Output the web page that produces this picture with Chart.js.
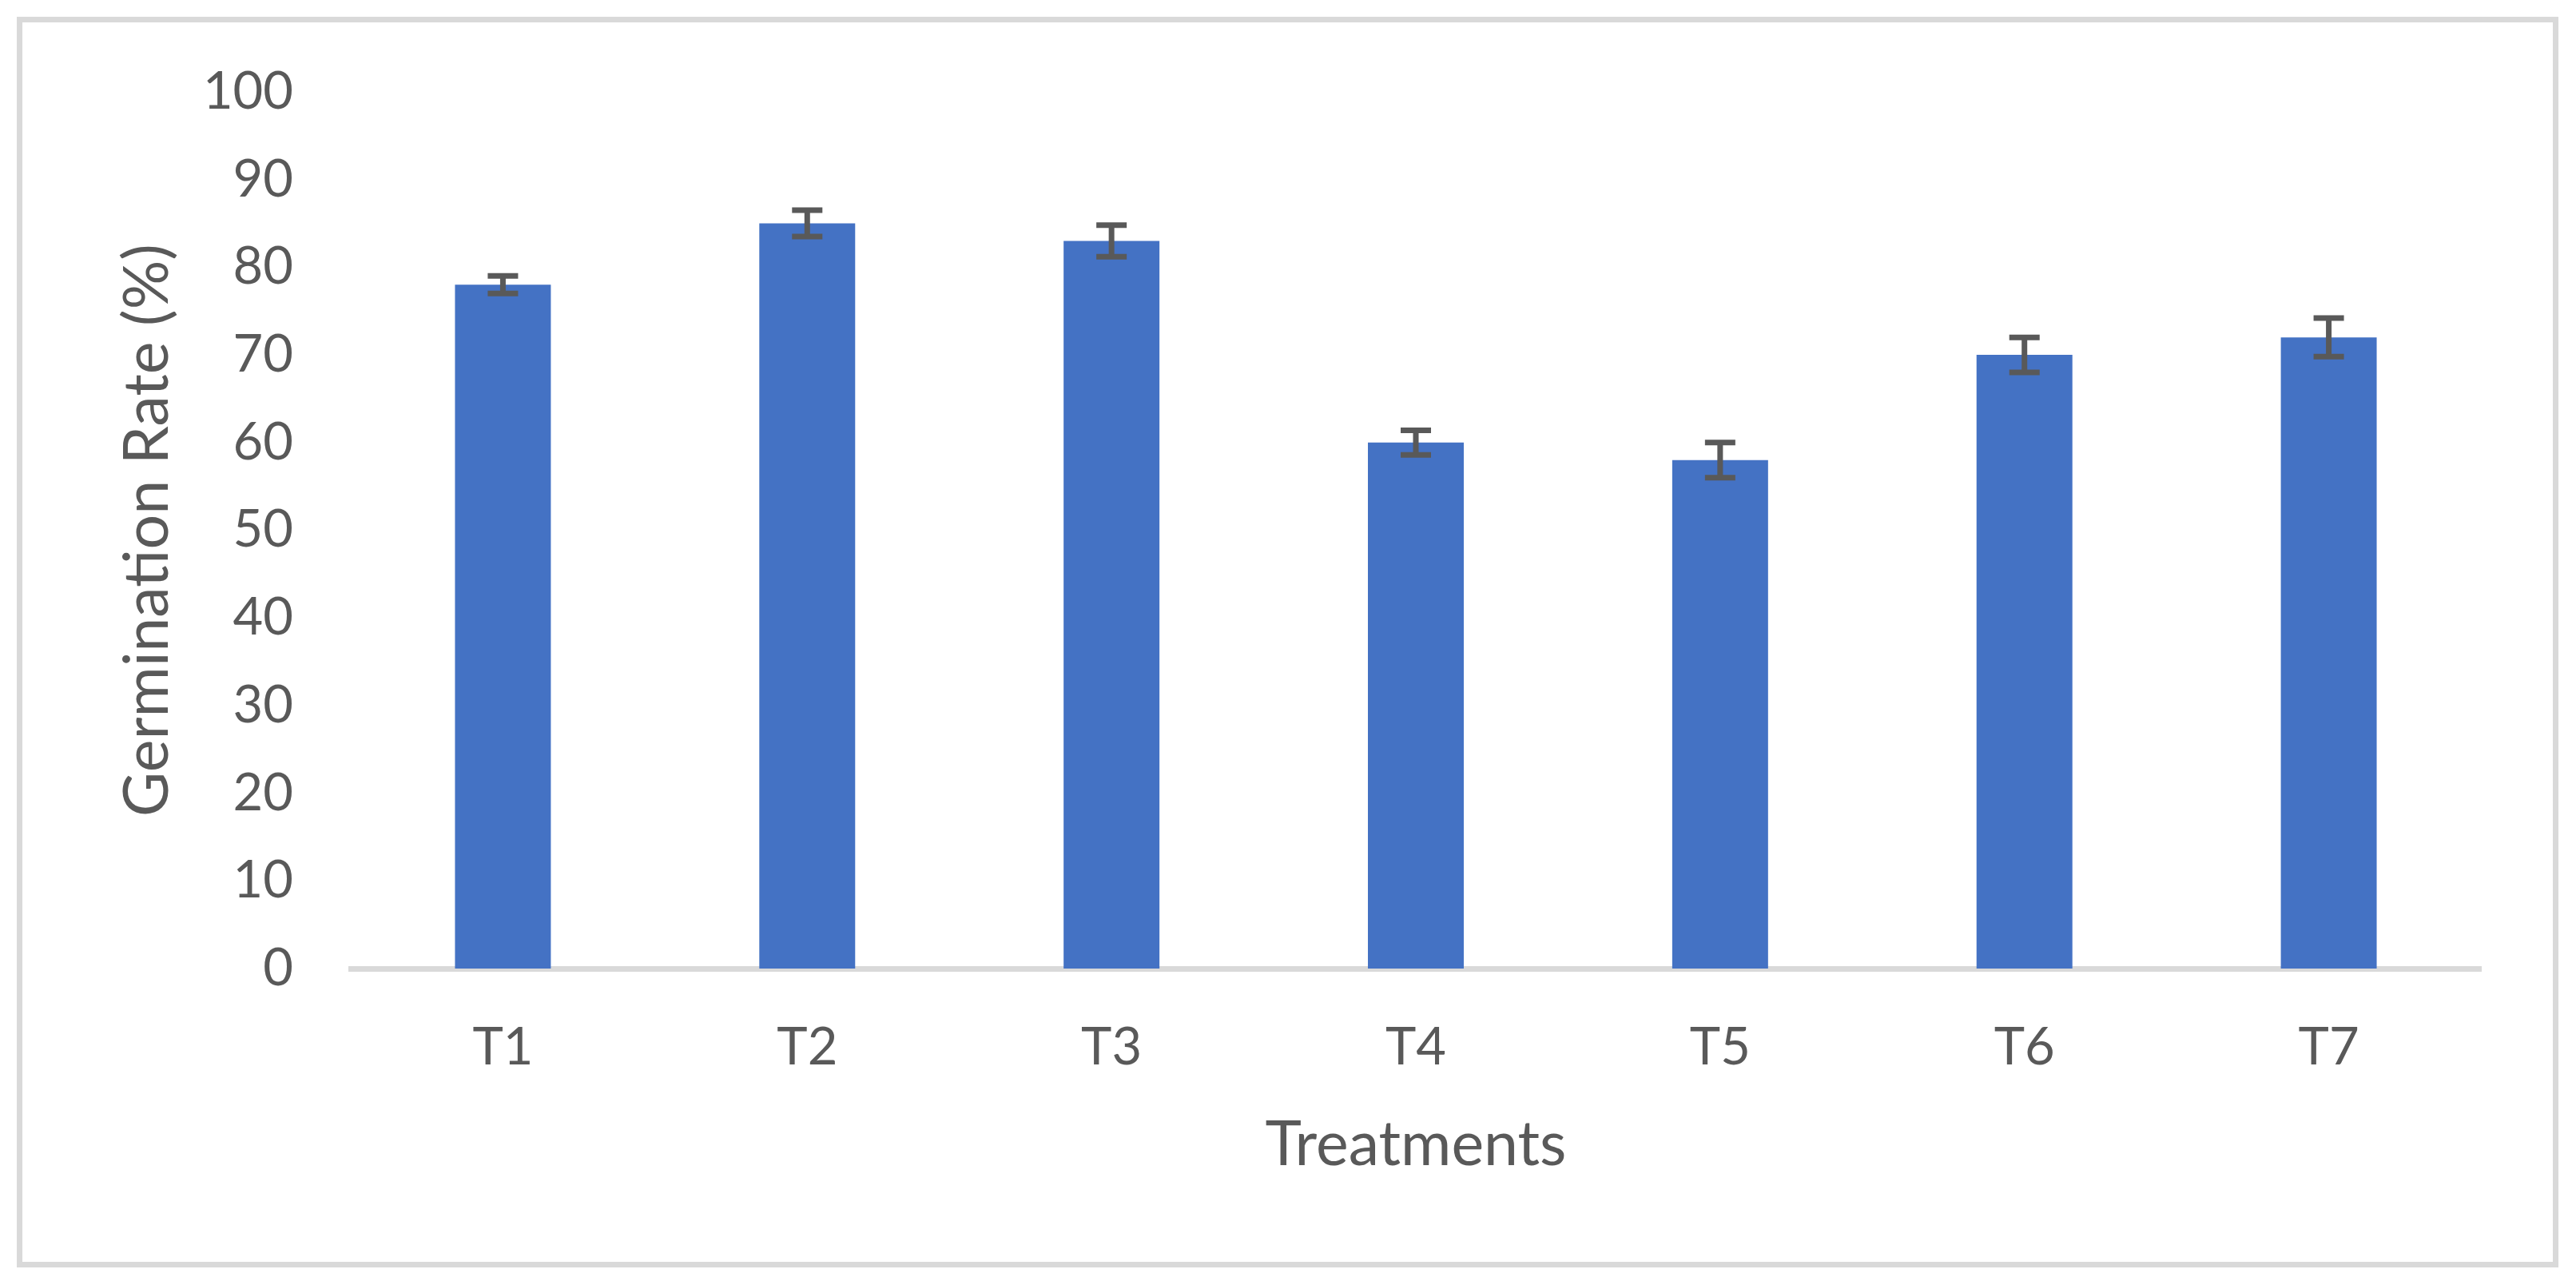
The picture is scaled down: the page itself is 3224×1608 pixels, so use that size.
<!DOCTYPE html>
<html>
<head>
<meta charset="utf-8">
<script src="https://cdn.jsdelivr.net/npm/chart.js@4"></script>
<style>
  html, body { margin: 0; padding: 0; background: #fff; }
  #wrap { width: 3224px; height: 1608px; }
</style>
</head>
<body>
<div id="wrap"><canvas id="chart"></canvas></div>
<script>
// data
const treatments = ["T1", "T2", "T3", "T4", "T5", "T6", "T7"];
const germinationRate = [78, 85, 83, 60, 58, 70, 72];
const errorSize = [1.0, 1.5, 1.8, 1.4, 2.0, 2.0, 2.2];
const yTicks = [0, 10, 20, 30, 40, 50, 60, 70, 80, 90, 100];

const textColor = "#595959";
const fontFamily = "Lato, 'Open Sans', sans-serif";

// frame round the whole chart
const framePlugin = {
  id: "frame",
  beforeDraw(chart) {
    const ctx = chart.ctx;
    ctx.save();
    ctx.fillStyle = "#ffffff";
    ctx.fillRect(0, 0, chart.width, chart.height);
    ctx.strokeStyle = "#d9d9d9";
    ctx.lineWidth = 7;
    ctx.strokeRect(24.5, 24.5, 3174, 1558);
    ctx.restore();
  },
};

// error bars drawn from the bar elements and the y scale
const errorBarPlugin = {
  id: "errorBars",
  afterDatasetsDraw(chart) {
    const ctx = chart.ctx;
    const yScale = chart.scales.y;
    const bars = chart.getDatasetMeta(0).data;
    ctx.save();
    ctx.strokeStyle = "#595959";
    ctx.lineWidth = 7;
    ctx.lineCap = "butt";
    bars.forEach((bar, i) => {
      const v = germinationRate[i];
      const e = errorSize[i];
      const top = yScale.getPixelForValue(v + e);
      const bottom = yScale.getPixelForValue(v - e);
      const half = 19;
      ctx.beginPath();
      ctx.moveTo(bar.x, top);
      ctx.lineTo(bar.x, bottom);
      ctx.moveTo(bar.x - half, top);
      ctx.lineTo(bar.x + half, top);
      ctx.moveTo(bar.x - half, bottom);
      ctx.lineTo(bar.x + half, bottom);
      ctx.stroke();
    });
    ctx.restore();
  },
};

new Chart(document.getElementById("chart"), {
  type: "bar",
  data: {
    labels: treatments,
    datasets: [
      {
        data: germinationRate,
        backgroundColor: "#4472c4",
        borderWidth: 0,
        categoryPercentage: 1,
        barPercentage: 0.315,
      },
    ],
  },
  options: {
    responsive: true,
    maintainAspectRatio: false,
    animation: false,
    layout: { padding: { left: 0, top: 115, right: 119, bottom: 0 } },
    plugins: {
      legend: { display: false },
      tooltip: { enabled: false },
    },
    scales: {
      x: {
        z: 1,
        grid: { display: false, drawTicks: false },
        border: { display: true, color: "#d9d9d9", width: 7 },
        ticks: {
          color: textColor,
          font: { family: fontFamily, size: 65 },
          padding: 60,
          maxRotation: 0,
        },
        title: {
          display: true,
          text: "Treatments",
          color: textColor,
          font: { family: fontFamily, size: 77 },
          padding: { top: 0, bottom: 129 },
        },
        afterFit(scale) {
          scale.height = 396;
        },
      },
      y: {
        min: 0,
        max: 100,
        grid: { display: false, drawTicks: false },
        border: { display: false },
        afterBuildTicks(scale) {
          scale.ticks = yTicks.map((v) => ({ value: v }));
        },
        ticks: {
          color: textColor,
          font: { family: fontFamily, size: 65 },
          padding: 72,
        },
        title: {
          display: true,
          text: "Germination Rate (%)",
          color: textColor,
          font: { family: fontFamily, size: 77 },
          padding: { top: 139, bottom: 0 },
        },
        afterFit(scale) {
          scale.width = 439;
        },
      },
    },
  },
  plugins: [framePlugin, errorBarPlugin],
});
</script>
</body>
</html>
